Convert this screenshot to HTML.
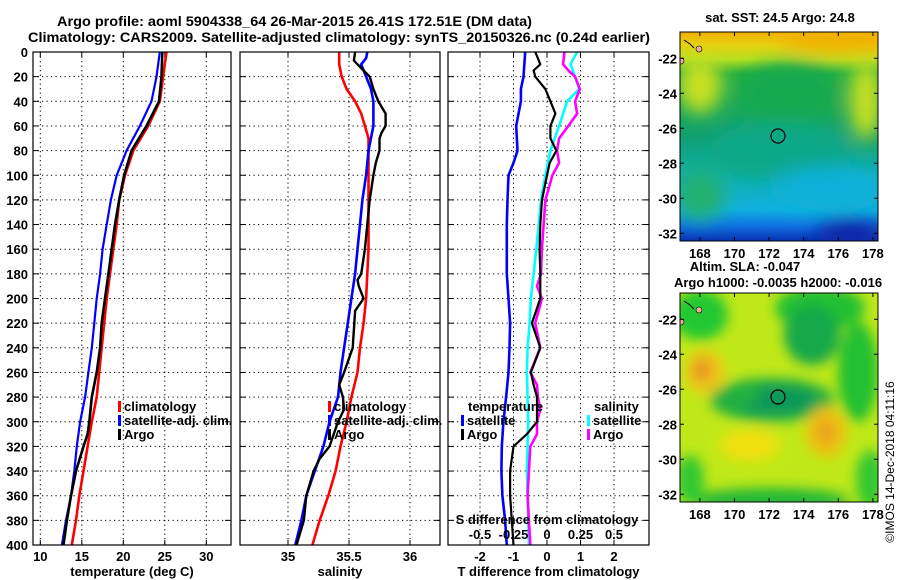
<!DOCTYPE html>
<html><head><meta charset="utf-8"><style>
html,body{margin:0;padding:0;background:#fff;}
svg{display:block;font-family:"Liberation Sans",sans-serif;font-weight:bold;}
</style></head><body>
<svg id="c" width="900" height="580" viewBox="0 0 900 580" xmlns="http://www.w3.org/2000/svg">
<defs>
<filter id="bl" x="-30%" y="-30%" width="160%" height="160%"><feGaussianBlur stdDeviation="9"/></filter>
<filter id="bl2" x="-30%" y="-30%" width="160%" height="160%"><feGaussianBlur stdDeviation="6"/></filter>
<clipPath id="m1c"><rect x="680" y="32" width="198" height="209"/></clipPath>
<clipPath id="m2c"><rect x="680" y="293" width="198" height="209"/></clipPath>
<linearGradient id="sstg" x1="0" y1="0" x2="0" y2="1">
<stop offset="0" stop-color="#f0b000"/><stop offset="0.06" stop-color="#e8d010"/><stop offset="0.13" stop-color="#b8e020"/><stop offset="0.2" stop-color="#20b040"/>
<stop offset="0.5" stop-color="#10a070"/><stop offset="0.7" stop-color="#10b0b0"/><stop offset="0.85" stop-color="#10b0e0"/><stop offset="0.93" stop-color="#1070e0"/><stop offset="1" stop-color="#0830b0"/>
</linearGradient>
</defs>
<text x="57" y="26" font-size="14" textLength="475" lengthAdjust="spacingAndGlyphs">Argo profile: aoml 5904338_64 26-Mar-2015 26.41S 172.51E (DM data)</text>
<text x="28" y="42" font-size="14" textLength="622" lengthAdjust="spacingAndGlyphs">Climatology: CARS2009. Satellite-adjusted climatology: synTS_20150326.nc (0.24d earlier)</text>
<g id="plots"></g>
<g id="maps">
 <g clip-path="url(#m1c)">
  <rect x="680" y="32" width="198" height="209" fill="url(#sstg)"/>
  <g filter="url(#bl)">
   <ellipse cx="840" cy="38" rx="60" ry="14" fill="#f0b000"/>
   <ellipse cx="700" cy="85" rx="22" ry="28" fill="#c8e020"/>
   <ellipse cx="866" cy="100" rx="16" ry="40" fill="#c8e020"/>
   <ellipse cx="790" cy="95" rx="50" ry="32" fill="#18a850"/>
   <ellipse cx="780" cy="150" rx="70" ry="28" fill="#10a888"/>
   <ellipse cx="830" cy="188" rx="60" ry="22" fill="#10b0d8"/>
   <ellipse cx="850" cy="234" rx="35" ry="14" fill="#0828a8"/>
   <ellipse cx="700" cy="195" rx="25" ry="25" fill="#20b070"/>
  </g>
  <circle cx="778" cy="136" r="7" fill="none" stroke="#000" stroke-width="1.2"/>
  <path d="M684 40 l6 4 l4 4" stroke="#000" fill="none"/><circle cx="699" cy="49" r="3" fill="#f0b090" stroke="#000" stroke-width="0.6"/>
  <circle cx="681" cy="61" r="3" fill="#f0b090" stroke="#000" stroke-width="0.6"/>
 </g>
 <rect x="680" y="32" width="198" height="209" fill="none" stroke="#000"/>
 <g clip-path="url(#m2c)">
  <rect x="680" y="293" width="198" height="209" fill="#c0e818"/>
  <g filter="url(#bl2)">
   <ellipse cx="700" cy="315" rx="28" ry="25" fill="#20c830"/>
   <ellipse cx="820" cy="308" rx="45" ry="22" fill="#20c030"/>
   <ellipse cx="812" cy="335" rx="28" ry="30" fill="#18a848"/>
   <ellipse cx="858" cy="372" rx="20" ry="50" fill="#20c030"/>
   <ellipse cx="772" cy="400" rx="62" ry="22" fill="#20b040"/>
   <ellipse cx="775" cy="400" rx="42" ry="14" fill="#10985a"/>
   <ellipse cx="740" cy="395" rx="20" ry="10" fill="#20b040"/>
   <ellipse cx="705" cy="372" rx="20" ry="22" fill="#f0c818"/>
   <ellipse cx="702" cy="370" rx="10" ry="12" fill="#e89820"/>
   <ellipse cx="826" cy="432" rx="20" ry="25" fill="#f0c010"/>
   <ellipse cx="826" cy="432" rx="9" ry="12" fill="#e8a020"/>
   <ellipse cx="750" cy="445" rx="30" ry="16" fill="#f0e010"/>
   <ellipse cx="770" cy="500" rx="80" ry="12" fill="#20b838"/>
   <ellipse cx="690" cy="480" rx="14" ry="25" fill="#30c830"/>
   <ellipse cx="870" cy="480" rx="14" ry="30" fill="#30c830"/>
  </g>
  <circle cx="778" cy="397" r="7" fill="none" stroke="#000" stroke-width="1.2"/>
  <path d="M684 301 l6 4 l4 4" stroke="#000" fill="none"/><circle cx="699" cy="310" r="3" fill="#f0b090" stroke="#000" stroke-width="0.6"/>
  <circle cx="681" cy="322" r="3" fill="#f0b090" stroke="#000" stroke-width="0.6"/>
 </g>
 <rect x="680" y="293" width="198" height="209" fill="none" stroke="#000"/>
 <text x="780" y="22" font-size="13" text-anchor="middle">sat. SST: 24.5 Argo: 24.8</text>
 <text x="745" y="271" font-size="13" text-anchor="middle">Altim. SLA: -0.047</text>
 <text x="778" y="287" font-size="13" text-anchor="middle">Argo h1000: -0.0035 h2000: -0.016</text>
 <text transform="translate(894,462) rotate(-90)" font-size="12" font-weight="normal" text-anchor="middle">©IMOS 14-Dec-2018 04:11:16</text>
</g>
</svg>
<script>
// ---- profile data ----
const depths = [0,20,40,60,80,100,120,140,160,180,200,220,240,260,280,300,320,340,360,380,400];
const tempClim = [25.2,24.8,24.4,23.0,21.2,20.2,19.5,19.2,18.8,18.4,18.0,17.7,17.4,17.1,16.8,16.2,15.7,15.2,14.7,14.3,13.8];
const tempSat = [24.4,24.0,23.4,22.0,20.4,19.2,18.5,18.0,17.5,17.2,16.8,16.5,16.2,15.8,15.4,14.8,14.4,14.1,13.7,13.1,12.6];
const argoTDepths = [0,20,40,60,80,100,120,140,160,180,200,220,240,260,280,300,310,320,340,360,380,400];
const tempArgo = [24.7,24.6,24.3,22.8,21.0,20.1,19.5,19.0,18.6,18.2,17.8,17.4,17.2,16.8,16.2,15.9,15.7,15.2,14.3,13.7,13.2,12.8];
const salClimDepths = [0,10,20,30,40,50,60,70,80,100,120,140,160,180,200,220,240,260,280,300,320,340,360,380,400];
const salClim = [35.42,35.42,35.44,35.48,35.55,35.60,35.63,35.66,35.66,35.66,35.66,35.66,35.66,35.65,35.64,35.62,35.59,35.57,35.52,35.48,35.43,35.39,35.33,35.26,35.20];
const salSatDepths = [0,5,10,20,30,40,60,80,100,120,140,160,180,200,220,240,260,280,300,320,340,360,380,400];
const salSat = [35.65,35.64,35.60,35.64,35.68,35.70,35.70,35.66,35.64,35.61,35.59,35.57,35.55,35.52,35.49,35.46,35.43,35.41,35.34,35.29,35.22,35.15,35.11,35.06];
const salArgoDepths = [0,7,10,15,20,30,40,50,60,65,70,80,90,100,120,140,160,180,185,190,200,210,240,260,270,280,290,300,320,330,340,360,380,400];
const salArgo = [35.55,35.54,35.57,35.62,35.67,35.70,35.74,35.80,35.80,35.77,35.75,35.75,35.72,35.70,35.67,35.65,35.63,35.60,35.57,35.58,35.62,35.55,35.53,35.46,35.42,35.45,35.46,35.41,35.34,35.26,35.21,35.15,35.13,35.07];
const tDiffSatDepths = [0,20,30,40,60,80,90,100,120,140,160,180,200,220,240,260,280,300,320,340,360,380,400];
const tDiffSat = [-0.65,-0.70,-0.78,-0.78,-0.92,-0.88,-1.0,-1.15,-1.18,-1.20,-1.20,-1.20,-1.15,-1.10,-1.12,-1.15,-1.22,-1.30,-1.35,-1.36,-1.33,-1.25,-1.20];
const tDiffArgoDepths = [0,10,15,20,30,40,50,60,70,80,90,100,120,140,160,180,200,220,240,260,270,280,300,310,320,340,360,380,400];
const tDiffArgo = [-0.35,-0.20,-0.40,-0.35,-0.05,0.10,0.25,0.10,0.10,0.28,0.08,0.0,-0.15,-0.20,-0.22,-0.20,-0.20,-0.45,-0.20,-0.48,-0.40,-0.30,-0.30,-0.60,-1.00,-1.10,-1.10,-1.05,-1.00];
const sDiffSatDepths = [0,10,20,30,40,60,80,100,120,140,160,180,200,220,240,260,280,300,320,340,360,380,400];
const sDiffSat = [0.225,0.175,0.21,0.24,0.15,0.09,0.025,-0.012,-0.045,-0.062,-0.08,-0.10,-0.12,-0.13,-0.145,-0.15,-0.145,-0.14,-0.145,-0.15,-0.145,-0.14,-0.135];
const sDiffArgoDepths = [0,10,15,20,30,40,50,60,70,80,90,100,120,140,160,180,190,200,220,240,260,270,280,290,300,310,320,340,360,380,400];
const sDiffArgo = [0.13,0.12,0.16,0.21,0.245,0.21,0.225,0.16,0.09,0.075,0.09,0.04,-0.012,-0.025,-0.038,-0.045,-0.075,-0.038,-0.088,-0.05,-0.125,-0.075,-0.068,-0.05,-0.075,-0.075,-0.125,-0.135,-0.145,-0.135,-0.125];
const depthTicks = [0,20,40,60,80,100,120,140,160,180,200,220,240,260,280,300,320,340,360,380,400];
const tempTicks = [10,15,20,25,30];
const salTicks = [35,35.5,36];
const tDiffTicks = [-2,-1,0,1,2];
const sDiffTicks = [-0.5,-0.25,0,0.25,0.5];
const sDiffTickLabels = ["-0.5","-0.25","0","0.25","0.5"];
const lonTicks = [168,170,172,174,176,178];
const latTicks = [-22,-24,-26,-28,-30,-32];

// ---- scales ----
const yD = d => 52 + d*1.2325;
const xT = t => 40.3 + (t-10)*8.3;
const xS = s => 288 + (s-35)*122;
const xTD = t => 547 + t*33.5;
const xSD = s => 547 + s*134;
const lonX = l => 680 + (l-166.85)*17.3;
const latY1 = l => 32 + (-20.5-l)*17.5;
const latY2 = l => 293 + (-20.5-l)*17.5;

const NS = "http://www.w3.org/2000/svg";
const root = document.getElementById('plots');
function mk(tag, attrs, parent){
  const e = document.createElementNS(NS, tag);
  for (const k in attrs) e.setAttribute(k, attrs[k]);
  (parent||root).appendChild(e);
  return e;
}
function txt(x,y,s,anchor,size,parent){
  const t = mk('text',{x:x,y:y,'font-size':size||12,'text-anchor':anchor||'middle'},parent);
  t.textContent = s; return t;
}
const panels = [
 {name:'temperature', x0:33, x1:231, xs:xT, ticks:tempTicks, labels:tempTicks.map(String), title:'temperature (deg C)'},
 {name:'salinity', x0:240, x1:440, xs:xS, ticks:salTicks, labels:["35","35.5","36"], title:'salinity'},
 {name:'t-difference', x0:448, x1:649, xs:xTD, ticks:tDiffTicks, labels:tDiffTicks.map(String), title:'T difference from climatology'}
];
const Y0 = 52, Y1 = 545;
panels.forEach((p,pi)=>{
  const g = mk('g',{});
  
  
  p.ticks.forEach(t=>{
    const x = p.xs(t);
    const l = mk('line',{x1:x,x2:x,y1:Y0,y2:Y1,stroke:'#000','stroke-dasharray':'1.2 3.3','stroke-width':1},g);
    
    
    mk('line',{x1:x,x2:x,y1:Y0,y2:Y0+5,stroke:'#000'},g);
    mk('line',{x1:x,x2:x,y1:Y1,y2:Y1-5,stroke:'#000'},g);
  });
  depthTicks.forEach(d=>{
    if(d===0||d===400) return;
    const y = yD(d);
    const l = mk('line',{x1:p.x0,x2:p.x1,y1:y,y2:y,stroke:'#000','stroke-dasharray':'1.2 3.3','stroke-width':1},g);
    
    
    mk('line',{x1:p.x0,x2:p.x0+6,y1:y,y2:y,stroke:'#000'},g);
    mk('line',{x1:p.x1,x2:p.x1-6,y1:y,y2:y,stroke:'#000'},g);
  });
  p.g = g;
  p.ticks.forEach((t,i)=>{
    const e = txt(p.xs(t), 561, p.labels[i], 'middle', 13, g);
    
    
  });
  const at = txt((p.x0+p.x1)/2, 576, p.title, 'middle', 13, g);
  
  
});
depthTicks.forEach(d=>{
  const e = txt(28, yD(d)+5, String(d), 'end', 13);
  
  
});
function line(g, ds, vs, xs, color, w, name){
  const pts = ds.map((d,i)=>xs(vs[i]).toFixed(1)+','+yD(d).toFixed(1)).join(' ');
  const e = mk('polyline',{points:pts,fill:'none',stroke:color,'stroke-width':w,'stroke-linejoin':'round'},g);
  
  
}
const P = panels;
line(P[0].g, depths, tempClim, xT, '#ff0000', 2.6, 'temp-climatology-line');
line(P[0].g, depths, tempSat, xT, '#0000ff', 2.2, 'temp-satellite-line');
line(P[0].g, argoTDepths, tempArgo, xT, '#000', 2.6, 'temp-argo-line');
line(P[1].g, salClimDepths, salClim, xS, '#ff0000', 2.6, 'sal-climatology-line');
line(P[1].g, salSatDepths, salSat, xS, '#0000ff', 2.6, 'sal-satellite-line');
line(P[1].g, salArgoDepths, salArgo, xS, '#000', 2.4, 'sal-argo-line');
line(P[2].g, tDiffSatDepths, tDiffSat, xTD, '#0000ff', 2.6, 'tdiff-satellite-line');
line(P[2].g, sDiffSatDepths, sDiffSat, xSD, '#00ffff', 2.6, 'sdiff-satellite-line');
line(P[2].g, sDiffArgoDepths, sDiffArgo, xSD, '#ff00ff', 2.6, 'sdiff-argo-line');
line(P[2].g, tDiffArgoDepths, tDiffArgo, xTD, '#000', 2.2, 'tdiff-argo-line');
sDiffTicks.forEach((s,i)=>{
  const e = txt(xSD(s), 539, sDiffTickLabels[i], 'middle', 13, P[2].g);
  
  
});
const sdt = txt(547, 524, 'S difference from climatology', 'middle', 13, P[2].g);


panels.forEach(p=>{ mk('rect',{x:p.x0,y:Y0,width:p.x1-p.x0,height:Y1-Y0,fill:'none',stroke:'#000','stroke-width':1.2},p.g); });
function legend(x, y, color, label, g){
  const lg = mk('g',{},g);
  
  
  mk('rect',{x:x,y:y-10,width:3,height:11,fill:color},lg);
  txt(x+6, y, label, 'start', 13, lg);
}
legend(118, 411, '#ff0000', 'climatology', P[0].g);
legend(118, 425, '#0000ff', 'satellite-adj. clim.', P[0].g);
legend(118, 439, '#000', 'Argo', P[0].g);
legend(328, 411, '#ff0000', 'climatology', P[1].g);
legend(328, 425, '#0000ff', 'satellite-adj. clim.', P[1].g);
legend(328, 439, '#000', 'Argo', P[1].g);
const lt = txt(468, 411, 'temperature', 'start', 13, P[2].g);


legend(461, 425, '#0000ff', 'satellite', P[2].g);
legend(461, 439, '#000', 'Argo', P[2].g);
const ls = txt(594, 411, 'salinity', 'start', 13, P[2].g);


legend(587, 425, '#00ffff', 'satellite', P[2].g);
legend(587, 439, '#ff00ff', 'Argo', P[2].g);
const mg = document.getElementById('maps');
[[latY1,32,241,252],[latY2,293,502,513]].forEach(([ly,t,b,lab])=>{
  lonTicks.forEach(l=>{
    const x = lonX(l);
    mk('line',{x1:x,x2:x,y1:b,y2:b-4,stroke:'#000'},mg);
    mk('line',{x1:x,x2:x,y1:t,y2:t+4,stroke:'#000'},mg);
    const e = txt(x, lab+6, String(l), 'middle', 13, mg);
    
    
  });
  latTicks.forEach(l=>{
    const y = ly(l);
    mk('line',{x1:680,x2:684,y1:y,y2:y,stroke:'#000'},mg);
    mk('line',{x1:878,x2:874,y1:y,y2:y,stroke:'#000'},mg);
    const e = txt(677, y+5, String(l), 'end', 13, mg);
    
    
  });
});
</script>
</body></html>
